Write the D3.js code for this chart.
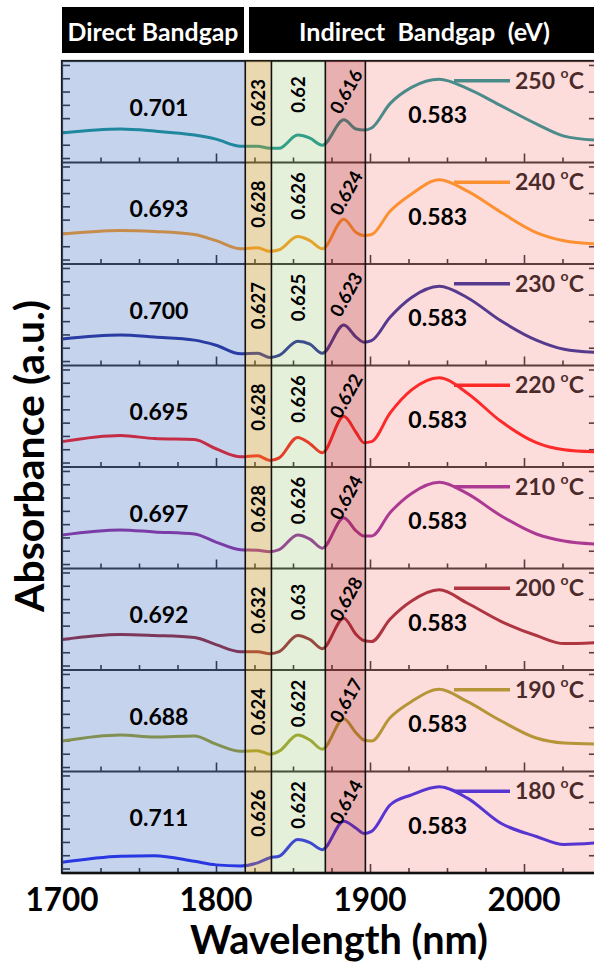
<!DOCTYPE html>
<html><head><meta charset="utf-8">
<script src="https://cdn.jsdelivr.net/npm/d3@7"></script>
<style>body{margin:0;background:#fff}svg{display:block;font-family:Lato,'Open Sans',sans-serif;font-weight:700}</style>
</head><body><svg id="c" width="594" height="962"></svg>
<script>
// ---------- data ----------
const wavelength = [1700,1738,1760,1786,1800,1816,1827,1835,1841,1853,1861,1869,1883,1891,1896,1901,1913,1927,1945,1963,1985,2008,2026,2046];
const temperatures = ["250","240","230","220","210","200","190","180"];
const abs250 = [0.29,0.33,0.31,0.27,0.23,0.16,0.16,0.14,0.14,0.27,0.24,0.17,0.42,0.33,0.32,0.34,0.58,0.74,0.82,0.73,0.56,0.38,0.26,0.22];
const abs240 = [0.295,0.33,0.32,0.29,0.23,0.15,0.16,0.125,0.14,0.27,0.23,0.15,0.44,0.31,0.28,0.29,0.52,0.69,0.83,0.72,0.51,0.31,0.23,0.20];
const abs230 = [0.26,0.30,0.28,0.25,0.20,0.115,0.12,0.08,0.10,0.24,0.21,0.12,0.40,0.28,0.23,0.245,0.475,0.67,0.78,0.67,0.44,0.25,0.16,0.13];
const abs220 = [0.25,0.31,0.28,0.27,0.18,0.10,0.11,0.065,0.09,0.29,0.23,0.14,0.50,0.34,0.24,0.25,0.53,0.76,0.88,0.73,0.45,0.24,0.17,0.15];
const abs210 = [0.33,0.38,0.36,0.34,0.26,0.185,0.18,0.165,0.185,0.33,0.29,0.20,0.50,0.37,0.32,0.32,0.55,0.74,0.85,0.74,0.52,0.34,0.27,0.24];
const abs200 = [0.30,0.35,0.34,0.32,0.25,0.18,0.18,0.16,0.18,0.34,0.30,0.21,0.51,0.35,0.29,0.28,0.50,0.68,0.79,0.66,0.48,0.34,0.26,0.27];
const abs190 = [0.30,0.36,0.34,0.35,0.27,0.20,0.205,0.17,0.20,0.36,0.31,0.22,0.52,0.38,0.31,0.30,0.53,0.69,0.81,0.69,0.50,0.33,0.28,0.27];
const abs180 = [0.105,0.165,0.17,0.115,0.08,0.07,0.10,0.15,0.165,0.33,0.30,0.23,0.51,0.44,0.39,0.41,0.67,0.77,0.85,0.74,0.49,0.36,0.28,0.295];
const absorbance = [abs250,abs240,abs230,abs220,abs210,abs200,abs190,abs180];
const directGap   = ["0.701","0.693","0.700","0.695","0.697","0.692","0.688","0.711"];
const indirectGap1 = ["0.623","0.628","0.627","0.628","0.628","0.632","0.624","0.626"];
const indirectGap2 = ["0.62","0.626","0.625","0.626","0.626","0.63","0.622","0.622"];
const indirectGap3 = ["0.616","0.624","0.623","0.622","0.624","0.628","0.617","0.614"];
const indirectGap4 = ["0.583","0.583","0.583","0.583","0.583","0.583","0.583","0.583"];
const regionEdges = [1700,1819,1836,1871,1897,2048];
const xTickLabels = [1700,1800,1900,2000];

// ---------- styles ----------
const lineColors = ["#008b88","#ff930a","#101890","#ff0000","#8c1896","#901020","#989a14","#1010f0"];
const regionFill = ["rgb(89,129,201)","rgb(208,171,79)","rgb(165,205,132)","rgb(204,79,79)","rgb(248,138,138)"];
const regionAlpha = [0.35,0.45,0.3,0.45,0.3];

const svg = d3.select("#c");
const top0 = 61, panelH = 101.5, nP = 8, bottom0 = top0 + panelH*nP;
const x = d3.scaleLinear().domain([1700,2048]).range([62, 62+348*1.54]);
const xL = x(1700), xR = x(2048);

function fit(sel, w){
  const fs = parseFloat(sel.attr("font-size"));
  const L = sel.node().getComputedTextLength();
  sel.attr("font-size", fs*w/L);
}

const under = svg.append("g");
const lineGen = d3.line().x(d=>x(d[0])).y(d=>d[1]).curve(d3.curveMonotoneX);
const yFracTicks = d3.range(0.044, 1, 0.131);

absorbance.forEach((vals,i)=>{
  const pt = top0 + i*panelH, pb = pt + panelH;
  const y = d3.scaleLinear().domain([0,1]).range([pb, pt]);
  const g = under.append("g");
  const minor = d3.axisBottom(x).tickValues(d3.range(1725,2048,25).filter(v=>v%100)).tickSize(-5).tickFormat("");
  const major = d3.axisBottom(x).tickValues([1800,1900,2000]).tickSize(-9).tickFormat("");
  [minor,major].forEach(ax=>{
    const a = g.append("g").attr("transform",`translate(0,${pb})`).call(ax);
    a.select(".domain").remove();
    a.selectAll("line").attr("stroke","#1a1a22").attr("stroke-width",1.6);
  });
  const la = g.append("g").attr("transform",`translate(${xL},0)`)
    .call(d3.axisLeft(y).tickValues(yFracTicks).tickSize(-8).tickFormat(""));
  la.select(".domain").remove();
  la.selectAll("line").attr("stroke","#1a1a22").attr("stroke-width",1.6);
  const ra = g.append("g").attr("transform",`translate(${xR},0)`)
    .call(d3.axisRight(y).tickValues(yFracTicks.filter((d,k)=>k%2===1)).tickSize(-9).tickFormat(""));
  ra.select(".domain").remove();
  ra.selectAll("line").attr("stroke","#1a1a22").attr("stroke-width",1.6);
  g.append("line").attr("x1",xL).attr("x2",xR).attr("y1",pt).attr("y2",pt)
    .attr("stroke","#1a1a1a").attr("stroke-width",2);
  g.append("path").attr("d",lineGen(wavelength.map((w,k)=>[w,y(vals[k])])))
    .attr("fill","none").attr("stroke",lineColors[i]).attr("stroke-width",3).attr("stroke-linejoin","round");
  const ly = pt + 0.195*panelH;
  g.append("line").attr("x1",454).attr("x2",510).attr("y1",ly).attr("y2",ly)
    .attr("stroke",lineColors[i]).attr("stroke-width",3.5);
  const t = g.append("text").attr("x",515).attr("y",ly+8).attr("font-size",23).attr("fill","#000");
  t.append("tspan").text(temperatures[i]+" ");
  t.append("tspan").attr("font-size",14).attr("dy",-11).text("o");
  t.append("tspan").attr("dy",11).text("C");
});
under.append("rect").attr("x",xL).attr("y",top0).attr("width",xR-xL).attr("height",bottom0-top0)
  .attr("fill","none").attr("stroke","#1a1a1a").attr("stroke-width",2.2);

// overlays
const over = svg.append("g");
regionEdges.slice(0,-1).forEach((e,k)=>{
  over.append("rect").attr("x",x(e)).attr("y",top0).attr("width",x(regionEdges[k+1])-x(e))
    .attr("height",bottom0-top0).attr("fill",regionFill[k]).attr("fill-opacity",regionAlpha[k]);
});
regionEdges.slice(1,-1).forEach(e=>{
  over.append("line").attr("x1",x(e)).attr("x2",x(e)).attr("y1",top0).attr("y2",bottom0)
    .attr("stroke","#111").attr("stroke-width",1.6);
});
over.append("line").attr("x1",xL).attr("x2",xR).attr("y1",bottom0).attr("y2",bottom0)
  .attr("stroke","#111").attr("stroke-width",2.5);

// value labels
const labels = svg.append("g").attr("fill","#000");
for(let i=0;i<nP;i++){
  const pt = top0 + i*panelH;
  labels.append("text").attr("x",x(1763)).attr("y",pt+0.46*panelH).attr("dy","0.36em")
    .attr("text-anchor","middle").attr("font-size",23).text(directGap[i]);
  labels.append("text").attr("transform",`translate(${x(1827.5)},${pt+0.41*panelH}) rotate(-90)`)
    .attr("dy","0.36em").attr("text-anchor","middle").attr("font-size",18.5).text(indirectGap1[i]);
  labels.append("text").attr("transform",`translate(${x(1853.5)},${pt+0.33*panelH}) rotate(-90)`)
    .attr("dy","0.36em").attr("text-anchor","middle").attr("font-size",18.5).text(indirectGap2[i]);
  labels.append("text").attr("transform",`translate(${x(1884.5)},${pt+0.30*panelH}) rotate(-61)`)
    .attr("dy","0.36em").attr("text-anchor","middle").attr("font-size",18.5).text(indirectGap3[i]);
  labels.append("text").attr("x",x(1944)).attr("y",pt+0.53*panelH).attr("dy","0.36em")
    .attr("text-anchor","middle").attr("font-size",23).text(indirectGap4[i]);
}

// x tick labels
xTickLabels.forEach(v=>{
  svg.append("text").attr("x",x(v)).attr("y",911).attr("text-anchor","middle")
    .attr("font-size",31.5).text(v);
});
const xt = svg.append("text").attr("x",339).attr("y",954).attr("text-anchor","middle")
  .attr("font-size",32).text("Wavelength (nm)");
fit(xt, 298);
const yt = svg.append("text").attr("transform","translate(44,456) rotate(-90)").attr("text-anchor","middle")
  .attr("font-size",31).text("Absorbance (a.u.)");
fit(yt, 312);

// header boxes
svg.append("rect").attr("x",62).attr("y",7).attr("width",182).attr("height",46).attr("fill","#000");
svg.append("rect").attr("x",249).attr("y",7).attr("width",360).attr("height",46).attr("fill","#000");
const h1 = svg.append("text").attr("x",153).attr("y",41).attr("text-anchor","middle")
  .attr("fill","#fff").attr("font-size",22).text("Direct Bandgap");
fit(h1, 171);
const h2 = svg.append("text").attr("x",424.5).attr("y",41).attr("text-anchor","middle")
  .attr("fill","#fff").attr("font-size",22).style("white-space","pre").text("Indirect  Bandgap  (eV)");
fit(h2, 251);
</script></body></html>
